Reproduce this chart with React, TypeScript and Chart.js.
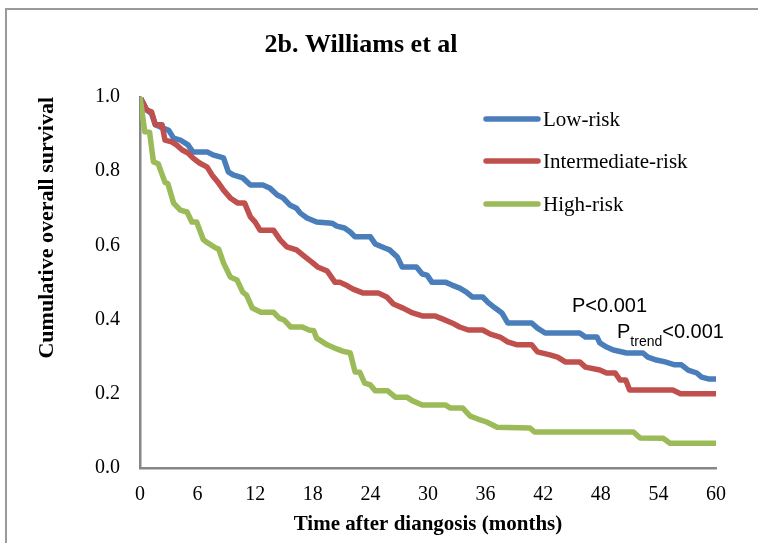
import React, { useEffect, useRef } from "react";
import { Chart, registerables } from "chart.js";

Chart.register(...registerables);

const chartTitle = "2b. Williams et al";
const xAxisTitle = "Time after diangosis (months)";
const yAxisTitle = "Cumulative overall survival";
const xTickStep = 6;
const yTickStep = 0.2;

const seriesLabels = ["Low-risk", "Intermediate-risk", "High-risk"];
const seriesColors = ["#4A7EBB", "#C0504D", "#9BBB59"];

const lowRiskTime = [0, 0.7, 1.2, 1.6, 2.4, 3.0, 3.5, 4.2, 5.0, 5.5, 7.0, 7.6, 8.7, 9.2, 9.7, 10.7, 11.5, 12.8, 13.5, 14.3, 14.9, 15.6, 16.3, 16.7, 17.4, 18.4, 20.0, 20.5, 21.3, 21.9, 22.4, 24.0, 24.5, 25.5, 26.0, 26.8, 27.3, 28.8, 29.4, 29.9, 30.4, 31.8, 32.5, 33.3, 34.0, 34.6, 35.7, 36.3, 37.0, 37.7, 38.3, 40.8, 41.4, 42.2, 45.8, 46.4, 47.6, 47.9, 48.6, 49.3, 50.7, 52.4, 52.9, 53.8, 54.7, 55.7, 56.4, 57.1, 58.0, 58.5, 59.2, 60];
const lowRiskSurv = [1.0, 0.965, 0.955, 0.925, 0.916, 0.91, 0.889, 0.884, 0.871, 0.852, 0.852, 0.844, 0.836, 0.798, 0.79, 0.782, 0.763, 0.763, 0.755, 0.736, 0.728, 0.709, 0.7, 0.687, 0.674, 0.663, 0.66, 0.652, 0.647, 0.636, 0.623, 0.623, 0.604, 0.593, 0.588, 0.569, 0.542, 0.542, 0.523, 0.52, 0.501, 0.501, 0.493, 0.485, 0.474, 0.461, 0.461, 0.445, 0.431, 0.418, 0.391, 0.391, 0.377, 0.364, 0.364, 0.353, 0.353, 0.337, 0.326, 0.318, 0.31, 0.31, 0.299, 0.291, 0.286, 0.278, 0.278, 0.264, 0.256, 0.245, 0.24, 0.24];

const intRiskTime = [0, 0.7, 1.2, 1.6, 2.3, 2.6, 3.3, 3.8, 4.4, 5.0, 5.5, 6.2, 7.0, 7.5, 8.1, 8.7, 9.4, 10.2, 10.9, 11.5, 12.0, 12.5, 13.9, 14.6, 15.3, 16.3, 17.2, 17.9, 18.5, 19.5, 20.3, 20.8, 21.6, 22.2, 23.2, 24.8, 25.7, 26.4, 27.4, 28.4, 29.4, 30.7, 31.5, 32.5, 33.3, 34.2, 35.7, 36.5, 37.5, 38.3, 39.3, 40.8, 41.4, 42.7, 43.5, 44.3, 45.8, 46.4, 47.9, 48.6, 49.5, 50.0, 50.6, 51.0, 55.5, 56.3, 60];
const intRiskSurv = [1.0, 0.965, 0.96, 0.925, 0.925, 0.884, 0.879, 0.871, 0.857, 0.849, 0.836, 0.822, 0.811, 0.79, 0.771, 0.749, 0.728, 0.714, 0.714, 0.677, 0.663, 0.641, 0.641, 0.615, 0.596, 0.588, 0.569, 0.555, 0.542, 0.531, 0.501, 0.501, 0.491, 0.482, 0.472, 0.472, 0.461, 0.442, 0.431, 0.418, 0.41, 0.41, 0.402, 0.391, 0.38, 0.372, 0.372, 0.361, 0.353, 0.34, 0.332, 0.332, 0.313, 0.305, 0.299, 0.286, 0.286, 0.272, 0.264, 0.256, 0.256, 0.237, 0.237, 0.21, 0.21, 0.2, 0.2];

const highRiskTime = [0, 0.5, 1.0, 1.4, 1.9, 2.6, 2.9, 3.5, 4.2, 4.9, 5.4, 5.9, 6.6, 7.1, 7.9, 8.2, 8.7, 9.4, 10.1, 10.7, 11.1, 11.7, 12.6, 13.9, 14.5, 15.0, 15.7, 16.9, 17.6, 18.1, 18.4, 19.5, 20.5, 21.1, 21.9, 22.4, 22.9, 23.4, 24.0, 24.5, 25.8, 26.6, 27.8, 28.4, 29.4, 31.8, 32.3, 33.6, 34.4, 35.2, 36.1, 37.2, 40.6, 41.1, 51.4, 52.1, 54.5, 55.2, 60];
const highRiskSurv = [1.0, 0.906, 0.905, 0.825, 0.82, 0.77, 0.767, 0.714, 0.695, 0.69, 0.663, 0.663, 0.615, 0.606, 0.593, 0.59, 0.553, 0.515, 0.507, 0.474, 0.466, 0.431, 0.42, 0.42, 0.404, 0.399, 0.38, 0.38, 0.372, 0.37, 0.35, 0.332, 0.321, 0.315, 0.31, 0.259, 0.258, 0.229, 0.224, 0.208, 0.208, 0.191, 0.191, 0.181, 0.17, 0.17, 0.162, 0.162, 0.14, 0.132, 0.124, 0.11, 0.108, 0.097, 0.097, 0.081, 0.08, 0.067, 0.067];

const pOverall = "P<0.001";
const pTrendMain = "P";
const pTrendSub = "trend";
const pTrendValue = "<0.001";

const serif = "'Liberation Serif', 'Times New Roman', serif";
const sans = "'Liberation Sans', Arial, sans-serif";

function toPoints(t: number[], s: number[]) {
  return t.map((x, i) => ({ x, y: s[i] }));
}

const overlayPlugin = {
  id: "overlay",
  afterDraw(chart: any) {
    const ctx = chart.ctx as CanvasRenderingContext2D;
    ctx.save();
    // title
    ctx.fillStyle = "#000";
    ctx.font = `bold 26px ${serif}`;
    ctx.textAlign = "center";
    ctx.textBaseline = "middle";
    ctx.fillText(chartTitle, 361, 45);

    // legend
    const rowsY = [119, 161, 204];
    chart.data.datasets.forEach((ds: any, i: number) => {
      const y = rowsY[i];
      ctx.strokeStyle = ds.borderColor;
      ctx.lineWidth = 5.5;
      ctx.lineCap = "round";
      ctx.beginPath();
      ctx.moveTo(486, y);
      ctx.lineTo(538, y);
      ctx.stroke();
      ctx.fillStyle = "#000";
      ctx.font = `21px ${serif}`;
      ctx.textAlign = "left";
      ctx.textBaseline = "middle";
      ctx.fillText(ds.label, 543, y + 1);
    });

    // p-values
    ctx.textAlign = "left";
    ctx.textBaseline = "alphabetic";
    ctx.font = `20px ${sans}`;
    ctx.fillText(pOverall, 572, 312);
    let x = 617;
    ctx.fillText(pTrendMain, x, 338);
    x += ctx.measureText(pTrendMain).width;
    ctx.font = `14px ${sans}`;
    ctx.fillText(pTrendSub, x, 346);
    x += ctx.measureText(pTrendSub).width;
    ctx.font = `20px ${sans}`;
    ctx.fillText(pTrendValue, x, 338);
    ctx.restore();
  },
};

export default function App() {
  const ref = useRef<HTMLCanvasElement | null>(null);

  useEffect(() => {
    if (!ref.current) return;
    const chart = new Chart(ref.current, {
      type: "line",
      data: {
        datasets: [
          { label: seriesLabels[0], data: toPoints(lowRiskTime, lowRiskSurv), borderColor: seriesColors[0], order: 2 },
          { label: seriesLabels[1], data: toPoints(intRiskTime, intRiskSurv), borderColor: seriesColors[1], order: 1 },
          { label: seriesLabels[2], data: toPoints(highRiskTime, highRiskSurv), borderColor: seriesColors[2], order: 0 },
        ].map((d) => ({
          ...d,
          borderWidth: 5.5,
          pointRadius: 0,
          tension: 0,
          fill: false,
          borderCapStyle: "round" as const,
          borderJoinStyle: "round" as const,
        })),
      },
      options: {
        responsive: false,
        animation: false,
        layout: { padding: { top: 97, right: 42, left: 0, bottom: 0 } },
        plugins: {
          legend: { display: false },
          title: { display: false },
          tooltip: { enabled: false },
        },
        scales: {
          x: {
            type: "linear",
            min: 0,
            max: 60,
            ticks: {
              stepSize: xTickStep,
              color: "#000",
              font: { family: serif, size: 20 },
              padding: 15,
              maxRotation: 0,
              autoSkip: false,
            },
            grid: { display: false, drawTicks: false },
            border: { display: true, color: "#868686", width: 2.5 },
            title: {
              display: true,
              text: xAxisTitle,
              color: "#000",
              font: { family: serif, size: 21, weight: "bold" },
              padding: { top: 0, bottom: 6 },
            },
            afterFit: (s: any) => {
              s.height = 75;
            },
          },
          y: {
            type: "linear",
            min: 0,
            max: 1,
            ticks: {
              stepSize: yTickStep,
              color: "#000",
              font: { family: serif, size: 20 },
              padding: 20,
              callback: (v: any) => Number(v).toFixed(1),
            },
            grid: { display: false, drawTicks: false },
            border: { display: true, color: "#868686", width: 2.5 },
            title: {
              display: true,
              text: yAxisTitle,
              align: "end",
              color: "#000",
              font: { family: serif, size: 22, weight: "bold" },
              padding: { top: 34, bottom: 0 },
            },
            afterFit: (s: any) => {
              s.width = 140;
            },
          },
        },
      },
      plugins: [overlayPlugin],
    });
    return () => chart.destroy();
  }, []);

  return (
    <div style={{ position: "fixed", left: 0, top: 0, width: 758, height: 543, background: "#fff" }}>
      <canvas ref={ref} width={758} height={543} style={{ position: "absolute", left: 0, top: 0 }} />
      <div
        style={{
          position: "absolute",
          left: 5,
          top: 8,
          width: 753,
          height: 535,
          borderLeft: "2px solid #9a9a9a",
          borderTop: "2px solid #9a9a9a",
          boxSizing: "border-box",
          pointerEvents: "none",
        }}
      />
    </div>
  );
}
